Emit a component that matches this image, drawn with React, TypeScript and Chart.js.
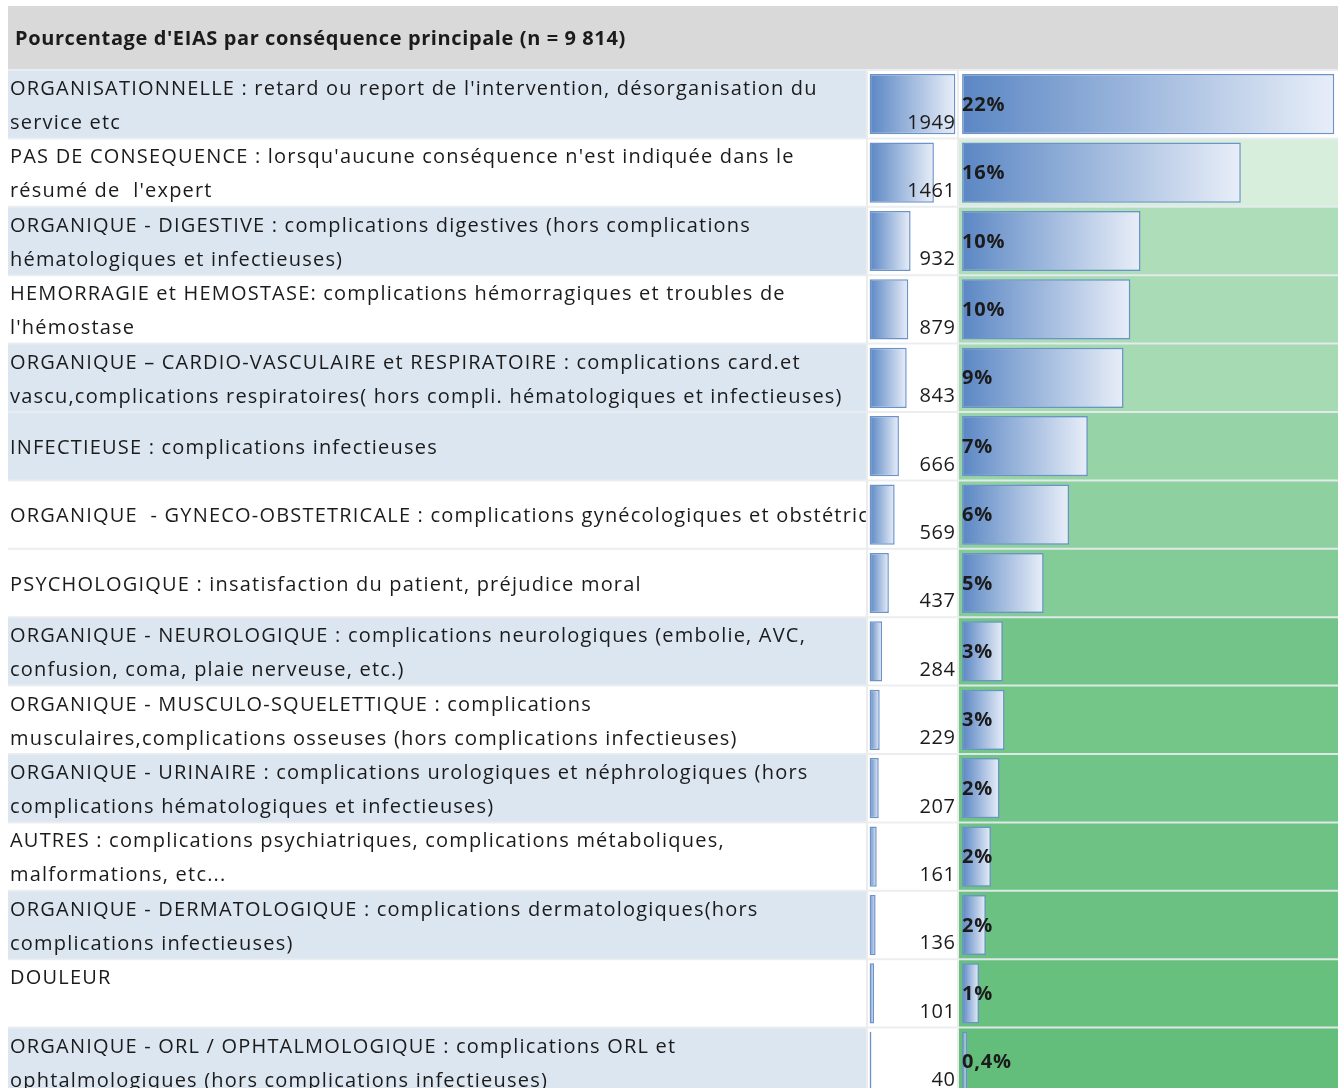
import React, { useEffect, useRef } from "react";
import { Chart, registerables } from "chart.js";

Chart.register(...registerables);

// ---------- data ----------
const TITLE = "Pourcentage d'EIAS par conséquence principale (n = 9 814)";

const categoryLines: string[][] = [
  ["ORGANISATIONNELLE : retard ou report de l'intervention, désorganisation du", "service etc"],
  ["PAS DE CONSEQUENCE : lorsqu'aucune conséquence n'est indiquée dans le", "résumé de  l'expert"],
  ["ORGANIQUE - DIGESTIVE : complications digestives (hors complications", "hématologiques et infectieuses)"],
  ["HEMORRAGIE et HEMOSTASE: complications hémorragiques et troubles de", "l'hémostase"],
  ["ORGANIQUE – CARDIO-VASCULAIRE et RESPIRATOIRE : complications card.et", "vascu,complications respiratoires( hors compli. hématologiques et infectieuses)"],
  ["INFECTIEUSE : complications infectieuses"],
  ["ORGANIQUE  - GYNECO-OBSTETRICALE : complications gynécologiques et obstétricales"],
  ["PSYCHOLOGIQUE : insatisfaction du patient, préjudice moral"],
  ["ORGANIQUE - NEUROLOGIQUE : complications neurologiques (embolie, AVC,", "confusion, coma, plaie nerveuse, etc.)"],
  ["ORGANIQUE - MUSCULO-SQUELETTIQUE : complications", "musculaires,complications osseuses (hors complications infectieuses)"],
  ["ORGANIQUE - URINAIRE : complications urologiques et néphrologiques (hors", "complications hématologiques et infectieuses)"],
  ["AUTRES : complications psychiatriques, complications métaboliques,", "malformations, etc..."],
  ["ORGANIQUE - DERMATOLOGIQUE : complications dermatologiques(hors", "complications infectieuses)"],
  ["DOULEUR"],
  ["ORGANIQUE - ORL / OPHTALMOLOGIQUE : complications ORL et", "ophtalmologiques (hors complications infectieuses)"],
];

const counts = [1949, 1461, 932, 879, 843, 666, 569, 437, 284, 229, 207, 161, 136, 101, 40];

const percentValues = [21.9, 16.4, 10.5, 9.9, 9.5, 7.4, 6.3, 4.8, 2.4, 2.5, 2.2, 1.7, 1.4, 1.0, 0.3];

const percentLabels = ["22%", "16%", "10%", "10%", "9%", "7%", "6%", "5%", "3%", "3%", "2%", "2%", "2%", "1%", "0,4%"];

const shadedRows = [true, false, true, false, true, true, false, false, true, false, true, false, true, false, true];

const topAlignedRows = [false, false, false, false, false, false, false, false, false, false, false, false, false, true, false];

// ---------- styles ----------
const FONT = "'Open Sans', Lato, sans-serif";
const TEXT_COLOR = "#1b1b1b";
const SHADE = "#dce6f1";
const TITLE_BG = "#d9d9d9";
const BAR_DARK = "#5b87c4";
const BAR_LIGHT = "#e8eef8";
const BAR_BORDER = "#6c92ca";
const SCALE_LOW = [99, 190, 123];
const SCALE_HIGH = [255, 255, 255];

function scaleColor(v: number): string {
  const lo = Math.min(...percentValues);
  const hi = Math.max(...percentValues);
  const t = hi === lo ? 0 : (v - lo) / (hi - lo);
  const c = SCALE_LOW.map((l, i) => Math.round(l + (SCALE_HIGH[i] - l) * t));
  return `rgb(${c[0]},${c[1]},${c[2]})`;
}

function gradientFill(axisId: string) {
  return (context: any) => {
    const chart = context.chart;
    const scale = chart.scales && chart.scales[axisId];
    const v = context.raw;
    if (!scale || typeof v !== "number") return BAR_DARK;
    const x0 = scale.getPixelForValue(0);
    const x1 = scale.getPixelForValue(v);
    if (!isFinite(x0) || !isFinite(x1) || x1 - x0 < 1) return BAR_DARK;
    const g = chart.ctx.createLinearGradient(x0, 0, x1, 0);
    g.addColorStop(0, BAR_DARK);
    g.addColorStop(1, BAR_LIGHT);
    return g;
  };
}

function setSpacing(ctx: any, px: number) {
  if ("letterSpacing" in ctx) ctx.letterSpacing = `${px}px`;
}

const tablePlugin = {
  id: "excelTable",
  beforeDatasetsDraw(chart: any) {
    const { ctx, chartArea, scales } = chart;
    const y = scales.y;
    const xl = scales.xLabel;
    const xc = scales.xCount;
    const xp = scales.xPct;
    const n = categoryLines.length;
    const band = (chartArea.bottom - chartArea.top) / n;
    ctx.save();
    // title band
    ctx.fillStyle = TITLE_BG;
    ctx.fillRect(chartArea.left, 6, chartArea.right - chartArea.left, chartArea.top - 7);

    for (let i = 0; i < n; i++) {
      const c = y.getPixelForValue(i);
      const top = c - band / 2;
      if (shadedRows[i]) {
        ctx.fillStyle = SHADE;
        ctx.fillRect(xl.left, top, xl.right - xl.left, band);
      }
      ctx.fillStyle = "#ffffff";
      ctx.fillRect(xc.left, top, xc.right - xc.left, band);
      ctx.fillStyle = scaleColor(percentValues[i]);
      ctx.fillRect(xp.left, top, xp.right - xp.left, band);
    }
    // row separators
    ctx.lineWidth = 2;
    for (let i = 0; i < n; i++) {
      const top = y.getPixelForValue(i) - band / 2;
      ctx.strokeStyle = "rgba(232,236,240,0.9)";
      ctx.beginPath();
      ctx.moveTo(chartArea.left, top);
      ctx.lineTo(chartArea.right, top);
      ctx.stroke();
    }
    // column separators
    ctx.strokeStyle = "#ececec";
    ctx.beginPath();
    ctx.moveTo(xl.right, chartArea.top);
    ctx.lineTo(xl.right, chartArea.bottom);
    ctx.moveTo(xc.right, chartArea.top);
    ctx.lineTo(xc.right, chartArea.bottom);
    ctx.stroke();
    ctx.restore();
  },
  afterDatasetsDraw(chart: any) {
    const { ctx, chartArea, scales } = chart;
    const y = scales.y;
    const xl = scales.xLabel;
    const xc = scales.xCount;
    const xp = scales.xPct;
    const n = categoryLines.length;
    const band = (chartArea.bottom - chartArea.top) / n;
    ctx.save();
    ctx.fillStyle = TEXT_COLOR;
    ctx.textBaseline = "middle";

    // title
    ctx.font = `bold 20px ${FONT}`;
    ctx.textAlign = "left";
    setSpacing(ctx, 0.6);
    ctx.fillText(TITLE, 15, 39);

    for (let i = 0; i < n; i++) {
      const c = y.getPixelForValue(i);
      const top = c - band / 2;
      const bottom = c + band / 2;
      // category label
      ctx.save();
      ctx.beginPath();
      ctx.rect(xl.left, top, xl.right - xl.left - 1, band);
      ctx.clip();
      ctx.font = `20px ${FONT}`;
      ctx.textAlign = "left";
      setSpacing(ctx, 1.2);
      const lines = categoryLines[i];
      const lh = 34;
      const first = topAlignedRows[i] ? top + 19 : c + 2 - ((lines.length - 1) * lh) / 2;
      lines.forEach((ln, k) => ctx.fillText(ln, xl.left + 2, first + k * lh));
      ctx.restore();

      // count
      ctx.font = `20px ${FONT}`;
      ctx.textAlign = "right";
      setSpacing(ctx, 0.6);
      ctx.fillText(String(counts[i]), xc.right - 2.5, bottom - 15.5);

      // percent
      ctx.font = `bold 20px ${FONT}`;
      ctx.textAlign = "left";
      setSpacing(ctx, 0.8);
      ctx.fillText(percentLabels[i], xp.left + 4, top + 35);
    }
    setSpacing(ctx, 0);
    ctx.restore();
  },
};

export default function App() {
  const ref = useRef<HTMLCanvasElement | null>(null);
  useEffect(() => {
    if (!ref.current) return;
    const chart = new Chart(ref.current, {
      type: "bar",
      data: {
        labels: categoryLines.map((l) => l.join(" ")),
        datasets: [
          {
            label: "Nombre d'EIAS",
            data: counts,
            xAxisID: "xCount",
            yAxisID: "y",
            grouped: false,
            backgroundColor: gradientFill("xCount"),
            borderColor: BAR_BORDER,
            borderWidth: 1.5,
            borderSkipped: false,
            barPercentage: 0.88,
            categoryPercentage: 1,
          } as any,
          {
            label: "Pourcentage",
            data: percentValues,
            xAxisID: "xPct",
            yAxisID: "y",
            grouped: false,
            backgroundColor: gradientFill("xPct"),
            borderColor: BAR_BORDER,
            borderWidth: 1.5,
            borderSkipped: false,
            barPercentage: 0.88,
            categoryPercentage: 1,
          } as any,
        ],
      },
      options: {
        indexAxis: "y",
        animation: false,
        responsive: false,
        layout: { padding: { top: 70, left: 8, right: 0, bottom: 0 } },
        plugins: { legend: { display: false }, tooltip: { enabled: false }, title: { display: false } },
        scales: {
          y: { type: "category", display: false, offset: true, grid: { display: false } },
          xLabel: { axis: "x", type: "linear", position: "bottom", display: false, stack: "cols", stackWeight: 859 },
          xCount: { axis: "x", type: "linear", position: "bottom", display: false, stack: "cols", stackWeight: 91, min: -60, max: 2010 },
          xPct: { axis: "x", type: "linear", position: "bottom", display: false, stack: "cols", stackWeight: 380, min: -0.24, max: 22.12 },
        } as any,
      },
      plugins: [tablePlugin],
    });
    return () => chart.destroy();
  }, []);

  return (
    <div style={{ position: "absolute", left: 0, top: 0, width: 1338, height: 1088, overflow: "hidden", background: "#fff" }}>
      <canvas ref={ref} width={1338} height={1096} style={{ display: "block", width: 1338, height: 1096 }} />
    </div>
  );
}
